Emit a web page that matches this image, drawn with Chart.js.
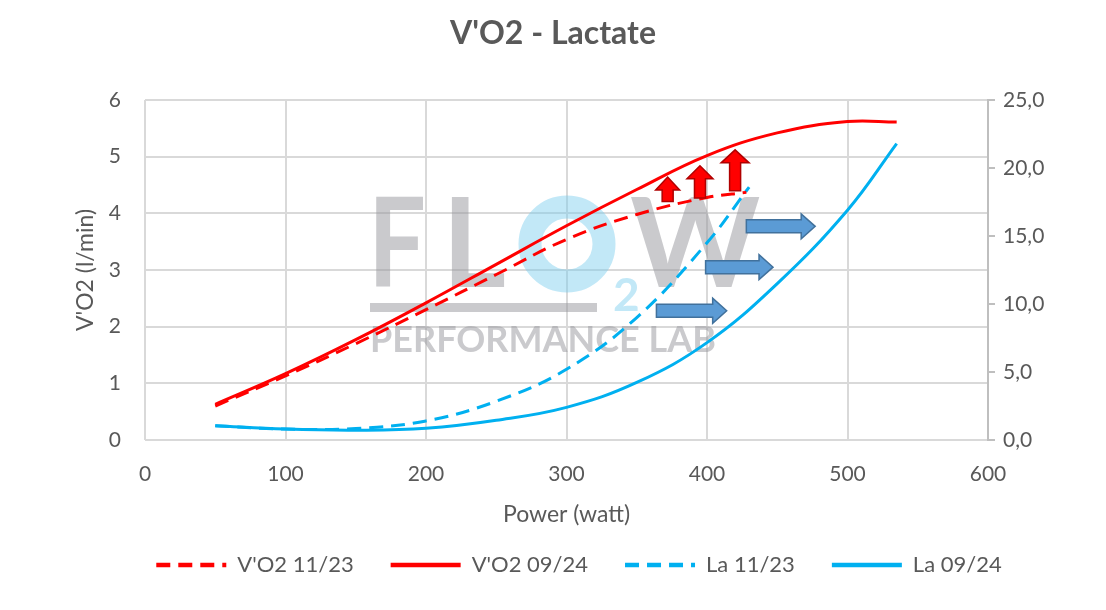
<!DOCTYPE html>
<html>
<head>
<meta charset="utf-8">
<title>V'O2 - Lactate</title>
<script src="https://cdn.jsdelivr.net/npm/chart.js@4.4.1/dist/chart.umd.min.js"></script>
<style>
  html, body { margin: 0; padding: 0; background: #fff; }
  #wrap { width: 1106px; height: 610px; }
</style>
</head>
<body>
<div id="wrap"><canvas id="vo2Chart" width="1106" height="610"></canvas></div>
<script>
// power (watt) and values
const vo2Power1123 = [50, 100, 150, 200, 250, 300, 350, 400, 428];
const vo2Values1123 = [0.60, 1.13, 1.70, 2.30, 2.92, 3.54, 3.98, 4.28, 4.37];
const vo2Power0924 = [50, 100, 150, 200, 250, 300, 350, 400, 450, 500, 535];
const vo2Values0924 = [0.63, 1.17, 1.77, 2.42, 3.10, 3.78, 4.42, 5.02, 5.42, 5.62, 5.61];

const laPower1123 = [50, 100, 150, 200, 250, 300, 350, 400, 430];
const laValues1123 = [1.05, 0.80, 0.85, 1.40, 2.85, 5.20, 9.00, 14.50, 18.60];
const laPower0924 = [50, 100, 150, 200, 250, 300, 350, 400, 450, 500, 535];
const laValues0924 = [1.05, 0.80, 0.72, 0.86, 1.45, 2.40, 4.23, 7.16, 11.50, 16.90, 21.80];

const seriesLabels = ["V'O2 11/23", "V'O2 09/24", "La 11/23", "La 09/24"];

// annotation arrows (data units: watt, l/min)
const upArrowPower = [372, 395, 420];
const upArrowFrom = [4.21, 4.27, 4.40];
const upArrowTo = [4.64, 4.84, 5.12];
const rightArrowFrom = [364, 399, 428];
const rightArrowTo = [414, 447, 477];
const rightArrowLevel = [2.28, 3.05, 3.77];

const FONT = 'Lato, "Open Sans", sans-serif';
const TXT = '#595959';
const RED = '#ff0000';
const BLUE = '#00b0f0';
const DASH = [14, 8];

function toPoints(xs, ys) {
    return xs.map((x, i) => ({ x: x, y: ys[i] }));
}

// faded FLOW2 logo behind the curves
const watermark = {
    id: 'watermark',
    beforeDatasetsDraw(chart) {
        const ctx = chart.ctx;
        const a = chart.chartArea;
        const ox = a.left, oy = a.top;
        ctx.save();
        ctx.fillStyle = 'rgba(150,150,155,0.5)';
        ctx.font = 'bold 124px ' + FONT;
        ctx.textBaseline = 'alphabetic';
        ctx.fillText('F', ox + 223, oy + 187, 58);
        ctx.fillText('L', ox + 297, oy + 187, 64);
        ctx.fillText('W', ox + 485, oy + 187, 137);
        ctx.fillRect(ox + 225, oy + 203, 227, 9);
        ctx.font = 'bold 36px ' + FONT;
        ctx.fillText('PERFORMANCE LAB', ox + 225, oy + 252, 395);
        ctx.strokeStyle = 'rgba(120,205,238,0.45)';
        ctx.lineWidth = 23;
        ctx.beginPath();
        ctx.arc(ox + 422, oy + 144, 37, 0, Math.PI * 2);
        ctx.stroke();
        ctx.fillStyle = 'rgba(120,205,238,0.45)';
        ctx.font = 'bold 46px ' + FONT;
        ctx.fillText('2', ox + 468, oy + 211);
        ctx.restore();
    }
};

const arrows = {
    id: 'arrows',
    afterDatasetsDraw(chart) {
        const ctx = chart.ctx;
        const xs = chart.scales.x, ys = chart.scales.y;
        ctx.save();
        ctx.lineWidth = 1.5;
        ctx.lineJoin = 'miter';
        // red up arrows
        ctx.fillStyle = '#ff0000';
        ctx.strokeStyle = '#b00000';
        upArrowPower.forEach((p, i) => {
            const cx = xs.getPixelForValue(p);
            const y0 = ys.getPixelForValue(upArrowFrom[i]);
            const y1 = ys.getPixelForValue(upArrowTo[i]);
            const hw = 12 + i, sw = 5.5, hl = 13;
            ctx.beginPath();
            ctx.moveTo(cx - sw, y0);
            ctx.lineTo(cx - sw, y1 + hl);
            ctx.lineTo(cx - hw, y1 + hl);
            ctx.lineTo(cx, y1);
            ctx.lineTo(cx + hw, y1 + hl);
            ctx.lineTo(cx + sw, y1 + hl);
            ctx.lineTo(cx + sw, y0);
            ctx.closePath();
            ctx.fill();
            ctx.stroke();
        });
        // blue right arrows
        ctx.fillStyle = '#5b9bd5';
        ctx.strokeStyle = '#41719c';
        rightArrowFrom.forEach((p, i) => {
            const x0 = xs.getPixelForValue(p);
            const x1 = xs.getPixelForValue(rightArrowTo[i]);
            const cy = ys.getPixelForValue(rightArrowLevel[i]);
            const sh = 6.5, hh = 12.5, hl = 14;
            ctx.beginPath();
            ctx.moveTo(x0, cy - sh);
            ctx.lineTo(x1 - hl, cy - sh);
            ctx.lineTo(x1 - hl, cy - hh);
            ctx.lineTo(x1, cy);
            ctx.lineTo(x1 - hl, cy + hh);
            ctx.lineTo(x1 - hl, cy + sh);
            ctx.lineTo(x0, cy + sh);
            ctx.closePath();
            ctx.fill();
            ctx.stroke();
        });
        ctx.restore();
    }
};

// the legend in the reference sits a little right of centre
const legendShift = {
    id: 'legendShift',
    afterLayout(chart) {
        chart.legend.left += 26;
        chart.legend.right += 26;
    }
};

const ctx = document.getElementById('vo2Chart').getContext('2d');
const chart = new Chart(ctx, {
    type: 'line',
    data: {
        datasets: [{
            label: seriesLabels[0],
            data: toPoints(vo2Power1123, vo2Values1123),
            yAxisID: 'y',
            borderColor: RED,
            backgroundColor: RED,
            borderDash: DASH,
            borderWidth: 3
        }, {
            label: seriesLabels[1],
            data: toPoints(vo2Power0924, vo2Values0924),
            yAxisID: 'y',
            borderColor: RED,
            backgroundColor: RED,
            borderWidth: 3
        }, {
            label: seriesLabels[2],
            data: toPoints(laPower1123, laValues1123),
            yAxisID: 'y2',
            borderColor: BLUE,
            backgroundColor: BLUE,
            borderDash: DASH,
            borderWidth: 3
        }, {
            label: seriesLabels[3],
            data: toPoints(laPower0924, laValues0924),
            yAxisID: 'y2',
            borderColor: BLUE,
            backgroundColor: BLUE,
            borderWidth: 3
        }]
    },
    options: {
        responsive: false,
        animation: false,
        devicePixelRatio: 1,
        layout: { padding: { left: 0, right: 0, top: 0, bottom: 24 } },
        elements: {
            point: { radius: 0, hoverRadius: 0 },
            line: { tension: 0.4, fill: false }
        },
        plugins: {
            tooltip: { enabled: false },
            title: {
                display: true,
                text: "V'O2 - Lactate",
                color: TXT,
                font: { family: FONT, size: 32, weight: 'bold' },
                padding: { top: 14, bottom: 47.6 }
            },
            legend: {
                position: 'bottom',
                labels: {
                    usePointStyle: true,
                    pointStyle: 'line',
                    pointStyleWidth: 70,
                    padding: 37,
                    color: TXT,
                    font: { family: FONT, size: 22 },
                    generateLabels(chart) {
                        const items = Chart.defaults.plugins.legend.labels.generateLabels(chart);
                        items.forEach(it => {
                            it.lineWidth = 4.5;
                            it.lineDash = chart.data.datasets[it.datasetIndex].borderDash || [];
                        });
                        return items;
                    }
                }
            }
        },
        scales: {
            x: {
                type: 'linear',
                min: 0,
                max: 600,
                ticks: {
                    stepSize: 100,
                    color: TXT,
                    padding: 22,
                    font: { family: FONT, size: 21 }
                },
                grid: { color: '#d9d9d9', lineWidth: 2, drawTicks: false },
                border: { display: false },
                title: {
                    display: true,
                    text: 'Power (watt)',
                    color: TXT,
                    font: { family: FONT, size: 23 },
                    padding: { top: 0, bottom: -11 }
                },
                afterFit(scale) { scale.height = 77; }
            },
            y: {
                position: 'left',
                min: 0,
                max: 6,
                ticks: {
                    stepSize: 1,
                    color: TXT,
                    padding: 24,
                    font: { family: FONT, size: 21 }
                },
                grid: { color: '#d9d9d9', lineWidth: 2, drawTicks: false },
                border: { display: false },
                title: {
                    display: true,
                    text: "V'O2 (l/min)",
                    color: TXT,
                    font: { family: FONT, size: 23 },
                    padding: { top: 72, bottom: 0 }
                },
                afterFit(scale) { scale.width = 145; }
            },
            y2: {
                position: 'right',
                min: 0,
                max: 25,
                ticks: {
                    stepSize: 5,
                    color: TXT,
                    padding: 8,
                    font: { family: FONT, size: 21 },
                    callback: v => v.toFixed(1).replace('.', ',')
                },
                grid: { drawOnChartArea: false, color: '#bfbfbf', lineWidth: 2, tickLength: 7 },
                border: { display: true, color: '#bfbfbf', width: 2 },
                afterFit(scale) { scale.width = 118; }
            }
        }
    },
    plugins: [watermark, arrows, legendShift]
});
</script>
</body>
</html>
